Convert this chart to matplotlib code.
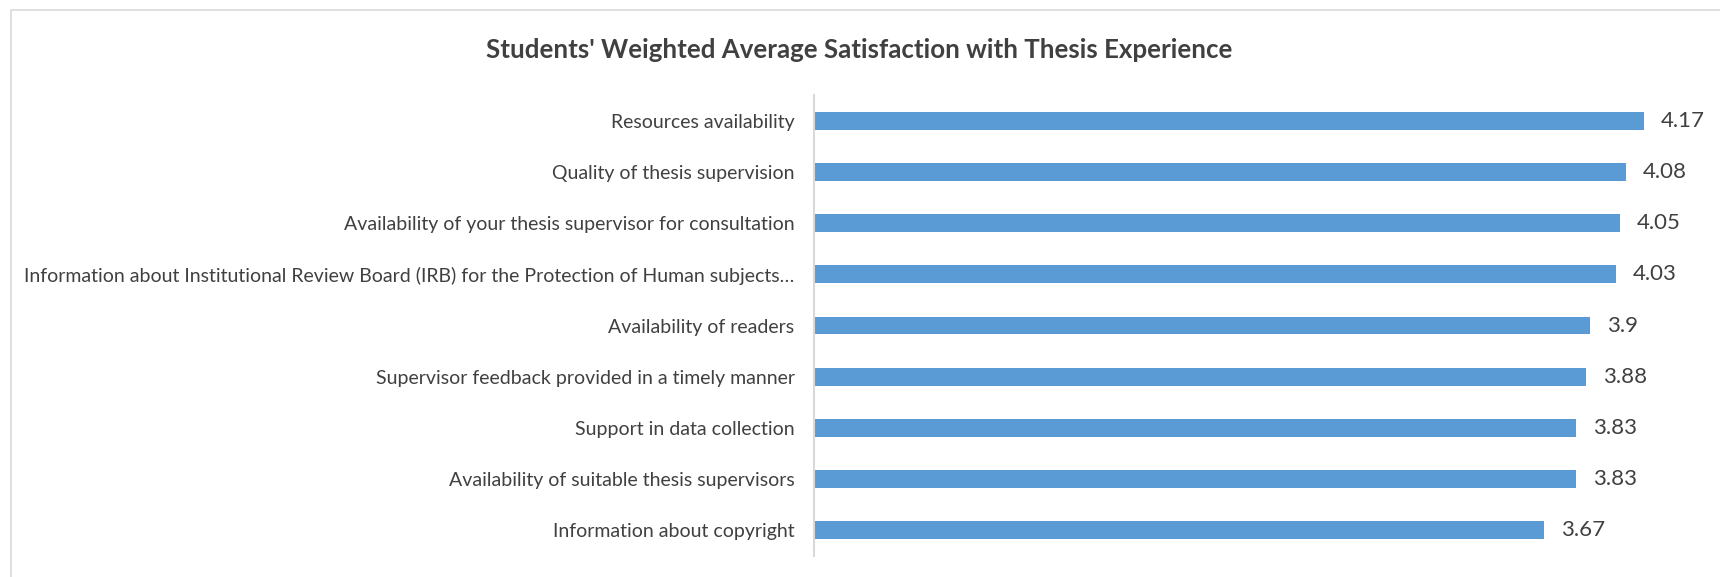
import matplotlib
matplotlib.use("Agg")
import matplotlib.pyplot as plt
from matplotlib.patches import Rectangle

# Data
categories = [
    "Resources availability",
    "Quality of thesis supervision",
    "Availability of your thesis supervisor for consultation",
    "Information about Institutional Review Board (IRB) for the Protection of Human subjects…",
    "Availability of readers",
    "Supervisor feedback provided in a timely manner",
    "Support in data collection",
    "Availability of suitable thesis supervisors",
    "Information about copyright",
]
values = [4.17, 4.08, 4.05, 4.03, 3.9, 3.88, 3.83, 3.83, 3.67]
value_labels = ["4.17", "4.08", "4.05", "4.03", "3.9", "3.88", "3.83", "3.83", "3.67"]
title = "Students' Weighted Average Satisfaction with Thesis Experience"

plt.rcParams["font.family"] = ["Lato", "DejaVu Sans"]
text_color = "#404040"
bar_color = "#5b9bd5"

W, H = 1720, 577
fig = plt.figure(figsize=(W / 100, H / 100), dpi=100)

# chart border (runs off the right and bottom edge)
fig.patches.append(Rectangle((10.5 / W, -0.1), 1.2, 1 - 9.5 / H + 0.1,
                             transform=fig.transFigure, fill=False,
                             edgecolor="#d9d9d9", linewidth=1.2))

left, right = 814 / W, 1.0
bottom, top = 1 - 556 / H, 1 - 95 / H
ax = fig.add_axes([left, bottom, right - left, top - bottom])

y = list(range(len(categories)))
ax.barh(y, values, height=0.35, color=bar_color)
ax.set_ylim(len(categories) - 0.5, -0.5)
ax.set_xlim(0, (W - 814) / 199)

ax.set_yticks(y)
ax.set_yticklabels(categories, fontsize=14.0, color=text_color)
ax.tick_params(axis="y", length=0, pad=14)
ax.set_xticks([])

for s in ["top", "right", "bottom"]:
    ax.spines[s].set_visible(False)
ax.spines["left"].set_color("#d9d9d9")
ax.spines["left"].set_linewidth(1.5)

for yi, v, lab in zip(y, values, value_labels):
    ax.annotate(lab, (v, yi), xytext=(12, 0), textcoords="offset points",
                va="center", ha="left", fontsize=16, color=text_color)

fig.text(859 / W, 1 - 50 / H, title, ha="center", va="center",
         fontsize=18.6, fontweight="bold", color=text_color)

fig.savefig("out.png", dpi=100)
